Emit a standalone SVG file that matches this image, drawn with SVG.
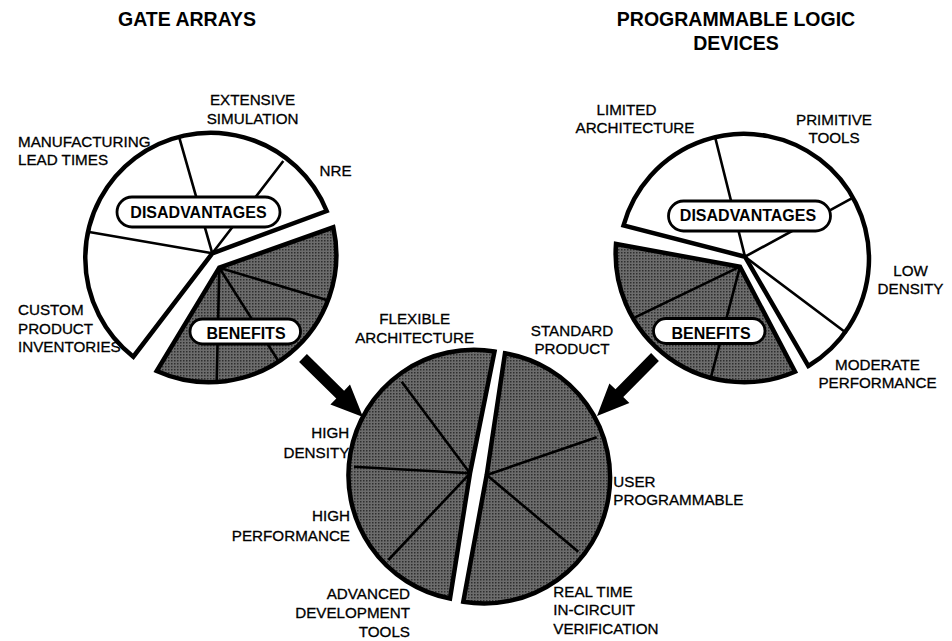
<svg xmlns="http://www.w3.org/2000/svg" width="952" height="641" viewBox="0 0 952 641">
<style>
.bg{fill:#fff}
.white{fill:#fff;stroke:#000;stroke-width:4.5;stroke-linejoin:miter}
.dark{fill:url(#halftone);stroke:#000;stroke-width:4.5;stroke-linejoin:miter}
.div{stroke:#000;stroke-width:2.6;fill:none}
.pill{fill:#fff;stroke:#000;stroke-width:2.8}
.pt{font-family:"Liberation Sans",Arial,sans-serif;font-weight:bold;font-size:16px;text-anchor:middle;fill:#000}
.lb{font-family:"Liberation Sans",Arial,sans-serif;font-size:15.2px;fill:#000;stroke:#000;stroke-width:0.3}
.ttl{font-family:"Liberation Sans",Arial,sans-serif;font-weight:bold;font-size:19.5px;fill:#000}
.m{text-anchor:middle}
.e{text-anchor:end}
.arrow{fill:#000}
</style>
<defs>
<pattern id="halftone" width="3" height="3" patternUnits="userSpaceOnUse">
<rect width="3" height="3" fill="#6c6c6c"/>
<rect width="1.5" height="1.5" fill="#2e2e2e"/>
</pattern>
</defs>
<rect class="bg" width="952" height="641"/>

<g id="titles">
<text class="ttl" x="118" y="26">GATE ARRAYS</text>
<text class="ttl m" x="736" y="26">PROGRAMMABLE LOGIC</text>
<text class="ttl m" x="736" y="50">DEVICES</text>
</g>

<g id="gate-arrays-disadvantages">
<path class="white" d="M212.3,253.3 L326.7,211 A125.3,125.3 0 1 0 133.3,356.7 Z"/>
<path class="div" d="M212.3,253.3 L179,136.7 M212.3,253.3 L283.3,161 M212.3,253.3 L87.7,231.7"/>
<rect class="pill" x="117" y="197" width="163" height="30" rx="15"/>
<text class="pt" x="198.5" y="218">DISADVANTAGES</text>
</g>

<g id="gate-arrays-benefits">
<path class="dark" d="M219.3,267.7 L333.3,227.3 A127.3,127.3 0 0 1 156.7,371 Z"/>
<path class="div" d="M219.3,267.7 L326.7,300 M219.3,267.7 L279,362 M219.3,267.7 L216.7,382"/>
<rect class="pill" x="190" y="319" width="110.5" height="25" rx="12.5"/>
<text class="pt" x="246" y="338.5">BENEFITS</text>
</g>

<g id="pld-disadvantages">
<path class="white" d="M745,256.7 L623.5,225.5 A125,125 0 1 1 808.3,366 Z"/>
<path class="div" d="M745,256.7 L715,136.7 M745,256.7 L851.7,198.3 M745,256.7 L846.7,333.3"/>
<rect class="pill" x="668.5" y="201" width="162" height="30" rx="15"/>
<text class="pt" x="748" y="220.5">DISADVANTAGES</text>
</g>

<g id="pld-benefits">
<path class="dark" d="M740,266.7 L616,244 A128.5,128.5 0 0 0 795,371.7 Z"/>
<path class="div" d="M740,266.7 L635,317.3 M740,266.7 L711,377"/>
<rect class="pill" x="653.5" y="318.5" width="111.5" height="25" rx="12.5"/>
<text class="pt" x="711" y="338.5">BENEFITS</text>
</g>

<g id="combined-gate-arrays-half">
<path class="dark" d="M470,473.3 L494.5,351.5 A125.5,125.5 0 0 0 450,598.5 Z"/>
<path class="div" d="M470,473.3 L401.7,381.7 M470,473.3 L354,466.7 M470,473.3 L388.3,560"/>
</g>

<g id="combined-pld-half">
<path class="dark" d="M486.7,475 L505,353.3 A125.8,125.8 0 0 1 463.3,601.7 Z"/>
<path class="div" d="M486.7,475 L596.7,437.3 M486.7,475 L578.3,551.7"/>
</g>

<g id="connectors">
<polygon class="arrow" points="299.1,361.9 306.9,354.1 344.1,390.7 350,384.6 363,417 330.4,404.6 336.3,398.5"/>
<polygon class="arrow" points="658.9,360.9 651.1,353.1 615.5,389.3 609.4,383.4 597,416 629.4,403 623.3,397.1"/>
</g>

<g id="labels">
<text class="lb m" x="252.6" y="105">EXTENSIVE</text>
<text class="lb m" x="252.6" y="123.5">SIMULATION</text>
<text class="lb" x="18" y="146.7">MANUFACTURING</text>
<text class="lb" x="18" y="165">LEAD TIMES</text>
<text class="lb" x="319.5" y="176">NRE</text>
<text class="lb" x="18" y="315">CUSTOM</text>
<text class="lb" x="18" y="333.5">PRODUCT</text>
<text class="lb" x="18" y="352">INVENTORIES</text>

<text class="lb m" x="626.5" y="115">LIMITED</text>
<text class="lb m" x="635" y="133.3">ARCHITECTURE</text>
<text class="lb m" x="834" y="125">PRIMITIVE</text>
<text class="lb m" x="834" y="143.3">TOOLS</text>
<text class="lb m" x="910.5" y="276">LOW</text>
<text class="lb m" x="910.5" y="294.3">DENSITY</text>
<text class="lb m" x="877.5" y="370">MODERATE</text>
<text class="lb m" x="877.5" y="388">PERFORMANCE</text>

<text class="lb m" x="414.7" y="324">FLEXIBLE</text>
<text class="lb m" x="414.7" y="342.7">ARCHITECTURE</text>
<text class="lb m" x="572" y="335.5">STANDARD</text>
<text class="lb m" x="572" y="354">PRODUCT</text>
<text class="lb e" x="349.3" y="438.3">HIGH</text>
<text class="lb e" x="349.3" y="458.3">DENSITY</text>
<text class="lb e" x="350" y="520.7">HIGH</text>
<text class="lb e" x="350" y="540.7">PERFORMANCE</text>
<text class="lb e" x="410" y="599.3">ADVANCED</text>
<text class="lb e" x="410" y="618.3">DEVELOPMENT</text>
<text class="lb e" x="410" y="636.7">TOOLS</text>
<text class="lb" x="613.3" y="486.7">USER</text>
<text class="lb" x="613.3" y="505">PROGRAMMABLE</text>
<text class="lb" x="553.3" y="596.7">REAL TIME</text>
<text class="lb" x="553.3" y="615">IN-CIRCUIT</text>
<text class="lb" x="553.3" y="634">VERIFICATION</text>
</g>
</svg>
